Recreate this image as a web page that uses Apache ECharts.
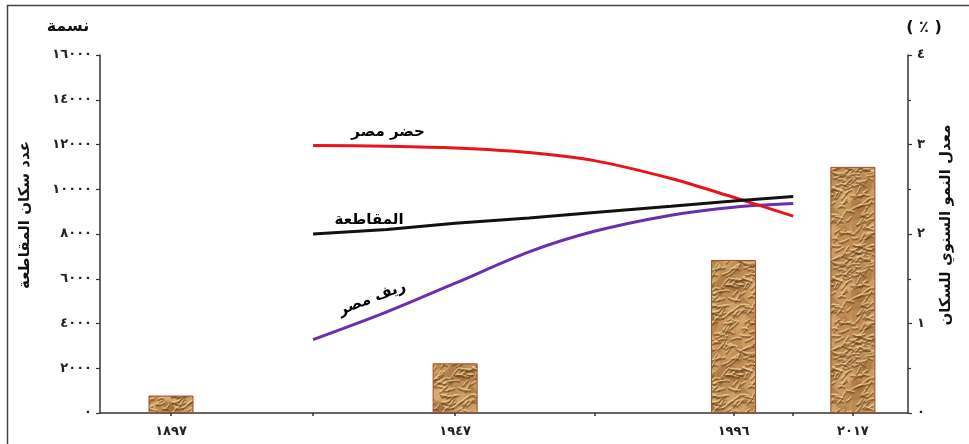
<!DOCTYPE html>
<html>
<head>
<meta charset="utf-8">
<script src="https://cdn.jsdelivr.net/npm/echarts@6/dist/echarts.min.js"></script>
<style>
  html, body { margin: 0; padding: 0; background: #fff; }
  #chart { width: 969px; height: 444px; }
</style>
</head>
<body>
<div id="chart"></div>
<script>
// Census years and population (bars, left axis)
const censusYears = [1897, 1947, 1996, 2017];
const population = [780, 2220, 6840, 11000];

// Annual growth rate curves (right axis, %)
const rateYears = [1922, 1935, 1947, 1960, 1971.5, 1985, 1996, 2006.5];
const urbanEgypt = [2.99, 2.98, 2.96, 2.91, 2.82, 2.62, 2.41, 2.20];
const governorate = [2.00, 2.05, 2.12, 2.18, 2.24, 2.31, 2.37, 2.42];
const ruralEgypt = [0.82, 1.13, 1.45, 1.80, 2.03, 2.21, 2.30, 2.34];

// Minor x-axis ticks between census years
const midTicks = [1922, 1971.5, 2006.5];

const seriesNames = ['حضر مصر', 'المقاطعة', 'ريف مصر'];

const AR_DIGITS = '٠١٢٣٤٥٦٧٨٩';
function toArabicDigits(n) {
  return String(n).replace(/[0-9]/g, d => AR_DIGITS[+d]);
}

// Crumpled-paper texture for the bars
function makeTexture() {
  const S = 90;
  const c = document.createElement('canvas');
  c.width = S; c.height = S;
  const g = c.getContext('2d');
  g.fillStyle = '#c08d55';
  g.fillRect(0, 0, S, S);
  const h = i => { const s = Math.sin(i * 12.9898 + 78.233) * 43758.5453; return s - Math.floor(s); };
  const tiled = fn => { for (let ox = -S; ox <= S; ox += S) for (let oy = -S; oy <= S; oy += S) fn(ox, oy); };
  g.lineCap = 'round';
  // soft tonal patches
  for (let i = 0; i < 50; i++) {
    const x = h(i + 3000) * S, y = h(i + 3500) * S, r = 4 + h(i + 4000) * 9;
    const light = h(i + 4500) > 0.45;
    g.fillStyle = light ? 'rgba(226,184,124,0.35)' : 'rgba(140,92,48,0.28)';
    tiled((ox, oy) => { g.beginPath(); g.arc(x + ox, y + oy, r, 0, Math.PI * 2); g.fill(); });
  }
  // creases: shadowed fold with a bright ridge above it
  for (let i = 0; i < 230; i++) {
    const x = h(i) * S, y = h(i + 500) * S;
    const a = -0.35 + (h(i + 1000) - 0.5) * 1.5;
    const len = 4 + h(i + 1500) * 8;
    const dx = Math.cos(a) * len, dy = Math.sin(a) * len;
    const bend = (h(i + 2000) - 0.5) * 4;
    tiled((ox, oy) => {
      const x0 = x + ox, y0 = y + oy;
      g.strokeStyle = 'rgba(110,68,30,0.55)';
      g.lineWidth = 2;
      g.beginPath();
      g.moveTo(x0, y0 + 0.8);
      g.quadraticCurveTo(x0 + dx / 2, y0 + dy / 2 + bend + 0.8, x0 + dx, y0 + dy + 0.8);
      g.stroke();
      g.strokeStyle = 'rgba(245,214,155,0.7)';
      g.lineWidth = 1.3;
      g.beginPath();
      g.moveTo(x0, y0 - 1);
      g.quadraticCurveTo(x0 + dx / 2, y0 + dy / 2 + bend - 1, x0 + dx, y0 + dy - 1);
      g.stroke();
    });
  }
  return c;
}

const chart = echarts.init(document.getElementById('chart'), null, { renderer: 'canvas' });
const FONT = '"DejaVu Sans", sans-serif';
const AXIS_COLOR = '#333';
const tickLabel = { fontFamily: FONT, fontWeight: 'bold', fontSize: 13, color: '#222' };

const option = {
  animation: false,
  backgroundColor: '#fff',
  grid: { left: 100, right: 61, top: 55, bottom: 31, containLabel: false },
  xAxis: {
    type: 'value',
    min: 1884.5,
    max: 2026.7,
    splitLine: { show: false },
    axisLine: { show: true, lineStyle: { color: AXIS_COLOR, width: 1.5 } },
    axisTick: {
      show: true, length: 3, inside: false,
      customValues: censusYears.concat(midTicks),
      lineStyle: { color: AXIS_COLOR, width: 1.5 }
    },
    axisLabel: Object.assign({
      customValues: censusYears,
      formatter: v => toArabicDigits(v),
      margin: 12
    }, tickLabel)
  },
  yAxis: [
    {
      type: 'value', min: 0, max: 16000, interval: 2000,
      position: 'left',
      splitLine: { show: false },
      axisLine: { show: true, lineStyle: { color: AXIS_COLOR, width: 1.5 } },
      axisTick: { show: true, length: 4, lineStyle: { color: AXIS_COLOR, width: 1.2 } },
      axisLabel: Object.assign({ formatter: v => toArabicDigits(v), margin: 8 }, tickLabel)
    },
    {
      type: 'value', min: 0, max: 4, interval: 1,
      position: 'right',
      splitLine: { show: false },
      axisLine: { show: true, lineStyle: { color: AXIS_COLOR, width: 1.5 } },
      axisTick: { show: true, length: 4, lineStyle: { color: AXIS_COLOR, width: 1.2 } },
      minorTick: { show: true, splitNumber: 2, length: 3, lineStyle: { color: AXIS_COLOR, width: 1.2 } },
      axisLabel: Object.assign({ formatter: v => toArabicDigits(v), margin: 9 }, tickLabel)
    }
  ],
  series: [
    {
      type: 'bar',
      name: 'population',
      yAxisIndex: 0,
      barWidth: 45,
      data: censusYears.map((y, i) => [y, population[i]]),
      itemStyle: {
        color: { image: makeTexture(), repeat: 'repeat' },
        borderColor: '#9b4f2a',
        borderWidth: 1
      },
      z: 1
    },
    {
      type: 'line', name: seriesNames[0], yAxisIndex: 1, smooth: 0.3,
      symbol: 'none', z: 3,
      lineStyle: { color: '#e8141b', width: 3 },
      data: rateYears.map((y, i) => [y, urbanEgypt[i]])
    },
    {
      type: 'line', name: seriesNames[1], yAxisIndex: 1, smooth: false,
      symbol: 'none', z: 4,
      lineStyle: { color: '#111', width: 3 },
      data: rateYears.map((y, i) => [y, governorate[i]])
    },
    {
      type: 'line', name: seriesNames[2], yAxisIndex: 1, smooth: 0.3,
      symbol: 'none', z: 2,
      lineStyle: { color: '#6a2fae', width: 3 },
      data: rateYears.map((y, i) => [y, ruralEgypt[i]])
    }
  ]
};
chart.setOption(option);

// Series names placed beside the start of each curve
const startOf = arr => chart.convertToPixel({ xAxisIndex: 0, yAxisIndex: 1 }, [rateYears[0], arr[0]]);
const pU = startOf(urbanEgypt), pG = startOf(governorate), pR = startOf(ruralEgypt);
const seriesLabel = (p, dx, dy, text, rot) => ({
  type: 'text', x: p[0] + dx, y: p[1] + dy, rotation: rot || 0,
  style: { text, fill: '#000', font: 'bold 15px ' + FONT, align: 'center', verticalAlign: 'middle' },
  z: 10
});

chart.setOption({
  graphic: [
    // frame
    { type: 'polyline', shape: { points: [[7.5, 450], [7.5, 5.5], [975, 5.5]] },
      style: { stroke: '#444', lineWidth: 1.5, fill: null }, z: 0 },
    // axis titles
    { type: 'text', x: 68, y: 27,
      style: { text: 'نسمة', fill: '#111', font: 'bold 16px ' + FONT, align: 'center', verticalAlign: 'middle' } },
    { type: 'text', x: 924, y: 28,
      style: { text: '( ٪ )', fill: '#111', font: 'bold 16px ' + FONT, align: 'center', verticalAlign: 'middle' } },
    { type: 'text', x: 25, y: 215, rotation: Math.PI / 2,
      style: { text: 'عدد سكان المقاطعة', fill: '#111', font: 'bold 15px ' + FONT, align: 'center', verticalAlign: 'middle' } },
    { type: 'text', x: 946, y: 225, rotation: Math.PI / 2,
      style: { text: 'معدل النمو السنوي للسكان', fill: '#111', font: 'bold 15px ' + FONT, align: 'center', verticalAlign: 'middle' } },
    seriesLabel(pU, 75, -13, seriesNames[0]),
    seriesLabel(pG, 56, -14, seriesNames[1]),
    seriesLabel(pR, 59, -41, seriesNames[2], 21 * Math.PI / 180)
  ]
});
</script>
</body>
</html>
